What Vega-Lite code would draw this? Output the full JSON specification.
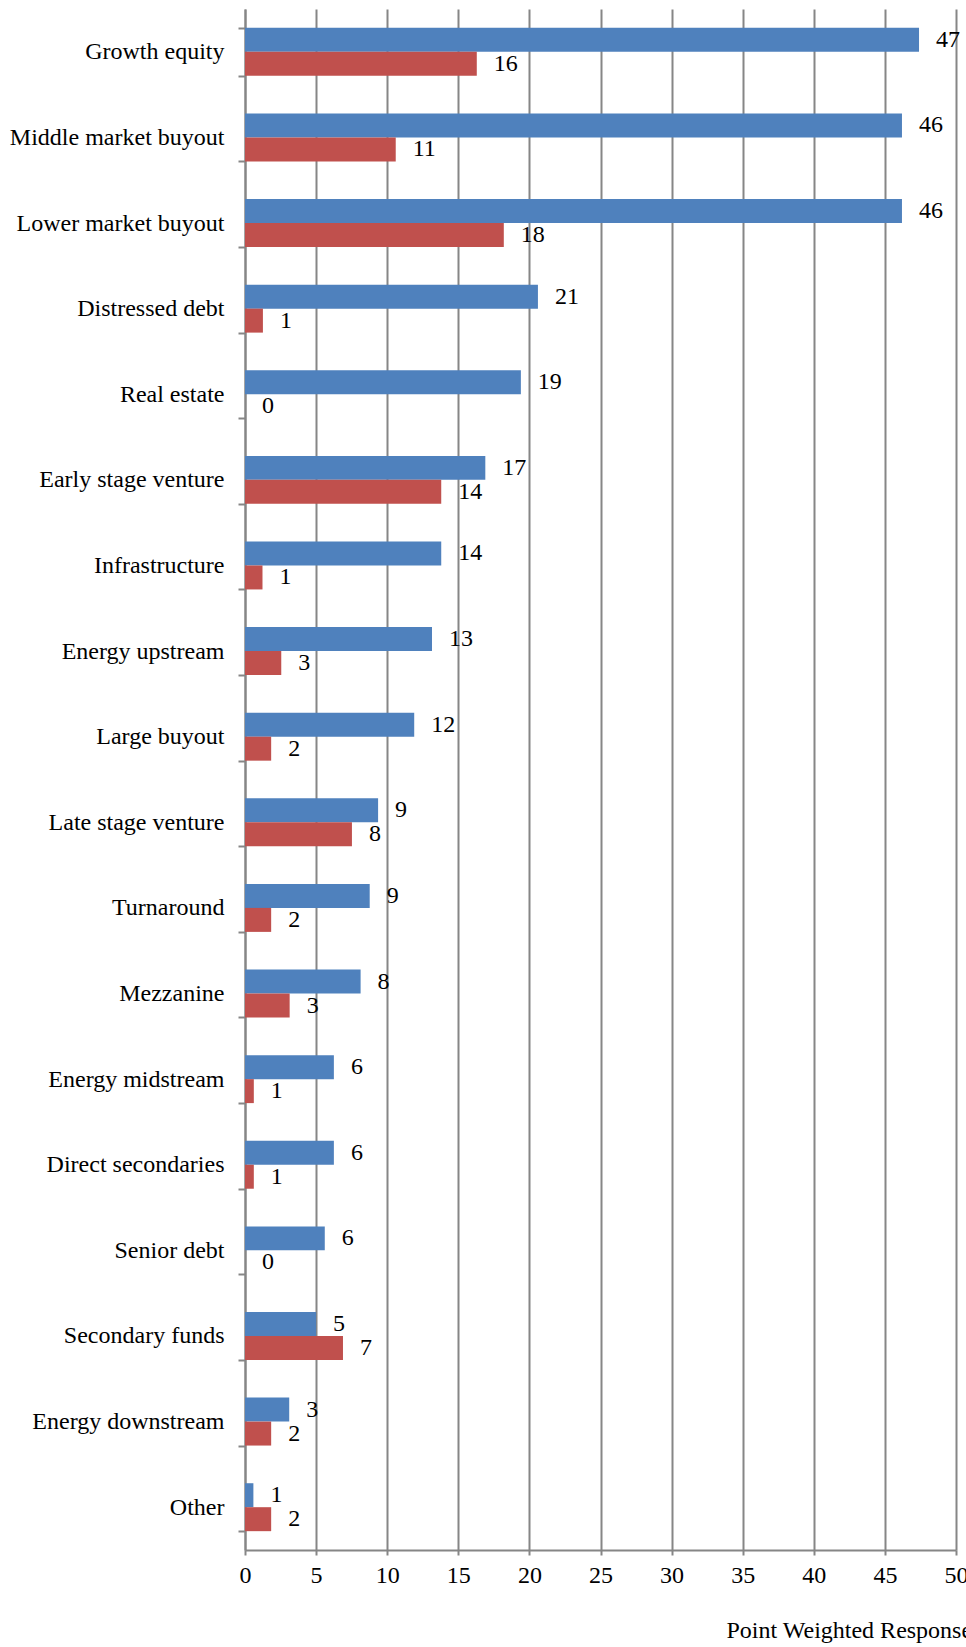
{
  "$schema": "https://vega.github.io/schema/vega-lite/v6.json",
  "width": 711,
  "height": 1541,
  "autosize": {"type": "none"},
  "padding": {"left": 245, "top": 9, "right": 10, "bottom": 97},
  "background": "white",
  "config": {
    "view": {"stroke": null},
    "font": "Liberation Serif",
    "axis": {"labelFont": "Liberation Serif", "titleFont": "Liberation Serif", "labelColor": "black", "titleColor": "black", "titleFontWeight": "normal"}
  },
  "data": {
    "values": [
      {"category": "Growth equity", "series": "Series1", "value": 47.4},
      {"category": "Growth equity", "series": "Series2", "value": 16.3},
      {"category": "Middle market buyout", "series": "Series1", "value": 46.2},
      {"category": "Middle market buyout", "series": "Series2", "value": 10.6},
      {"category": "Lower market buyout", "series": "Series1", "value": 46.2},
      {"category": "Lower market buyout", "series": "Series2", "value": 18.2},
      {"category": "Distressed debt", "series": "Series1", "value": 20.6},
      {"category": "Distressed debt", "series": "Series2", "value": 1.26},
      {"category": "Real estate", "series": "Series1", "value": 19.4},
      {"category": "Real estate", "series": "Series2", "value": 0},
      {"category": "Early stage venture", "series": "Series1", "value": 16.9},
      {"category": "Early stage venture", "series": "Series2", "value": 13.8},
      {"category": "Infrastructure", "series": "Series1", "value": 13.8},
      {"category": "Infrastructure", "series": "Series2", "value": 1.23},
      {"category": "Energy upstream", "series": "Series1", "value": 13.15},
      {"category": "Energy upstream", "series": "Series2", "value": 2.55},
      {"category": "Large buyout", "series": "Series1", "value": 11.9},
      {"category": "Large buyout", "series": "Series2", "value": 1.84},
      {"category": "Late stage venture", "series": "Series1", "value": 9.36},
      {"category": "Late stage venture", "series": "Series2", "value": 7.52},
      {"category": "Turnaround", "series": "Series1", "value": 8.77},
      {"category": "Turnaround", "series": "Series2", "value": 1.84},
      {"category": "Mezzanine", "series": "Series1", "value": 8.13},
      {"category": "Mezzanine", "series": "Series2", "value": 3.14},
      {"category": "Energy midstream", "series": "Series1", "value": 6.25},
      {"category": "Energy midstream", "series": "Series2", "value": 0.62},
      {"category": "Direct secondaries", "series": "Series1", "value": 6.25},
      {"category": "Direct secondaries", "series": "Series2", "value": 0.62},
      {"category": "Senior debt", "series": "Series1", "value": 5.61},
      {"category": "Senior debt", "series": "Series2", "value": 0},
      {"category": "Secondary funds", "series": "Series1", "value": 5.0},
      {"category": "Secondary funds", "series": "Series2", "value": 6.89},
      {"category": "Energy downstream", "series": "Series1", "value": 3.11},
      {"category": "Energy downstream", "series": "Series2", "value": 1.84},
      {"category": "Other", "series": "Series1", "value": 0.59},
      {"category": "Other", "series": "Series2", "value": 1.84}
    ]
  },
  "encoding": {
    "y": {
      "field": "category", "type": "nominal", "sort": null,
      "scale": {"paddingInner": 0.44, "paddingOuter": 0.22},
      "axis": {
        "title": null, "tickBand": "extent", "tickSize": 7, "tickColor": "#868686", "tickWidth": 2,
        "domainColor": "#868686", "domainWidth": 2, "labelFontSize": 24, "labelPadding": 14, "labelLimit": 400
      }
    },
    "yOffset": {"field": "series", "type": "nominal", "sort": ["Series1", "Series2"]},
    "x": {
      "field": "value", "type": "quantitative",
      "scale": {"domain": [0, 50], "nice": false},
      "axis": {
        "values": [0, 5, 10, 15, 20, 25, 30, 35, 40, 45, 50],
        "title": "Point Weighted Response", "titleFontSize": 24, "titleAnchor": "start", "titleAlign": "left", "titleX": 481, "titleY": 68,
        "grid": true, "gridColor": "#868686", "gridWidth": 2,
        "domainColor": "#868686", "domainWidth": 2, "tickColor": "#868686", "tickWidth": 2, "tickSize": 5,
        "labelFontSize": 24, "labelPadding": 8, "labelFlush": false
      }
    }
  },
  "layer": [
    {
      "mark": {"type": "bar"},
      "encoding": {
        "color": {"field": "series", "type": "nominal", "scale": {"domain": ["Series1", "Series2"], "range": ["#4F81BD", "#C0504D"]}, "legend": null}
      }
    },
    {
      "mark": {"type": "text", "align": "left", "baseline": "middle", "dx": 17, "fontSize": 24, "font": "Liberation Serif", "color": "black"},
      "encoding": {
        "text": {"field": "value", "type": "quantitative", "format": ".0f"}
      }
    }
  ]
}
